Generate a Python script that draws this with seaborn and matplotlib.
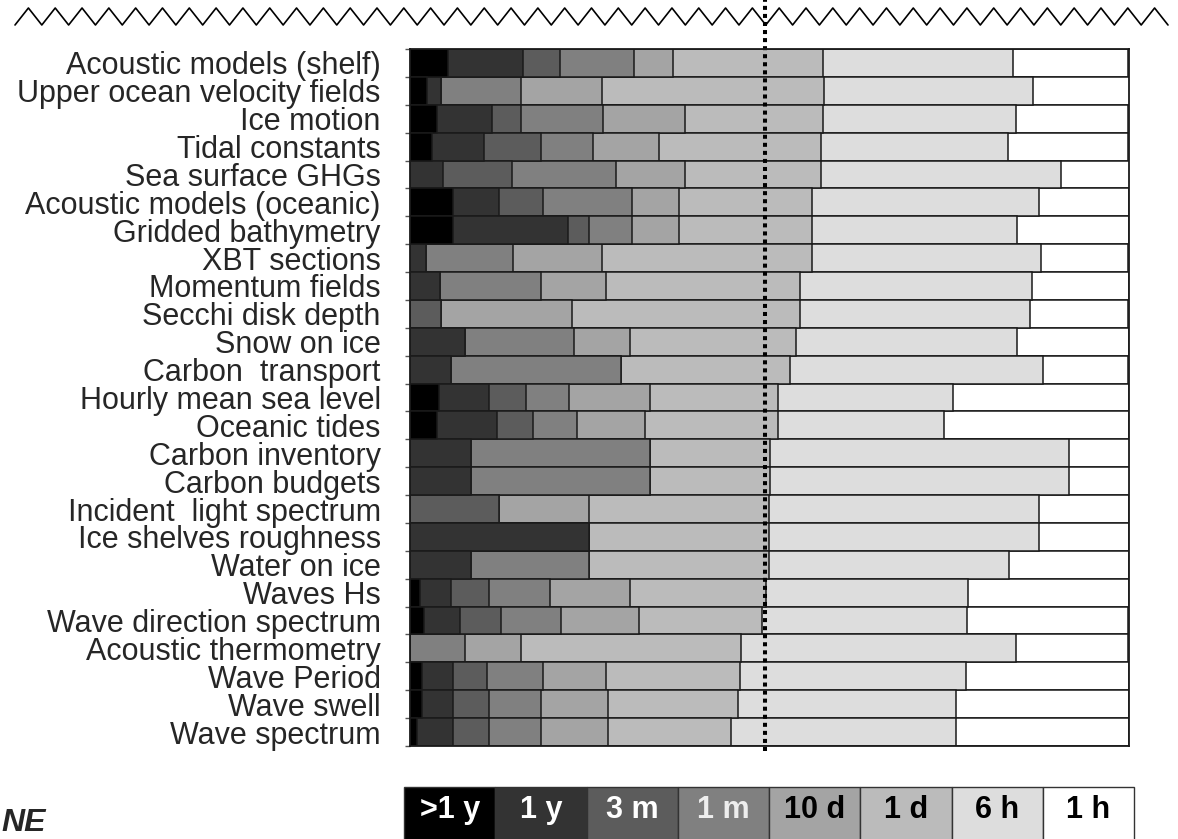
import numpy as np
import pandas as pd
import matplotlib
matplotlib.use('Agg')
import matplotlib.pyplot as plt
from matplotlib.lines import Line2D
import seaborn as sns

# data (percent of each row, per time scale)
names = ['Acoustic models (shelf)', 'Upper ocean velocity fields',
         'Ice motion', 'Tidal constants', 'Sea surface GHGs',
         'Acoustic models (oceanic)', 'Gridded bathymetry', 'XBT sections',
         'Momentum fields', 'Secchi disk depth', 'Snow on ice',
         'Carbon  transport', 'Hourly mean sea level', 'Oceanic tides',
         'Carbon inventory', 'Carbon budgets', 'Incident  light spectrum',
         'Ice shelves roughness', 'Water on ice', 'Waves Hs',
         'Wave direction spectrum', 'Acoustic thermometry', 'Wave Period',
         'Wave swell', 'Wave spectrum']

scales = ['>1 y', '1 y', '3 m', '1 m', '10 d', '1 d', '6 h', '1 h']

over_1y = [5.3, 2.4, 3.8, 3.1, 0, 6.0, 6.0, 0, 0, 0, 0, 0, 4.0, 3.8,
           0, 0, 0, 0, 0, 1.4, 1.9, 0, 1.7, 1.7, 1.0]
one_y = [10.4, 1.9, 7.6, 7.2, 4.6, 6.4, 16.0, 2.2, 4.2, 0, 7.6, 5.7, 7.0,
         8.3, 8.5, 8.5, 0, 24.9, 8.5, 4.3, 5.0, 0, 4.3, 4.3, 5.0]
three_m = [5.1, 0, 4.0, 7.9, 9.6, 6.1, 2.9, 0, 0, 4.3, 0, 0, 5.1, 5.0,
           0, 0, 12.4, 0, 0, 5.3, 5.8, 0, 4.7, 5.0, 5.0]
one_m = [10.4, 11.1, 11.4, 7.2, 14.5, 12.4, 6.0, 12.1, 14.0, 0, 15.2,
         23.6, 6.0, 6.1, 24.9, 24.9, 0, 0, 16.4, 8.5, 8.3, 7.6, 7.8, 7.2,
         7.2]
ten_d = [5.4, 11.3, 11.5, 9.3, 9.5, 6.5, 6.5, 12.4, 9.0, 18.2, 7.8, 0,
         11.3, 9.5, 0, 0, 12.5, 0, 0, 11.1, 10.8, 7.8, 8.8, 9.3, 9.3]
one_d = [20.9, 30.9, 19.2, 22.5, 18.9, 18.5, 18.5, 29.2, 27.0, 31.7, 23.1,
         23.6, 17.8, 18.5, 16.6, 16.6, 25.0, 25.0, 25.0, 18.9, 17.2, 30.7,
         18.6, 18.1, 17.2]
six_h = [26.4, 29.1, 26.8, 26.0, 33.5, 31.6, 28.5, 31.8, 32.3, 32.1, 30.7,
         35.2, 24.3, 23.1, 41.6, 41.6, 37.6, 37.6, 33.4, 28.1, 28.4, 38.2,
         31.4, 30.3, 31.2]
one_h = [16.0, 13.4, 15.6, 16.7, 9.5, 12.5, 15.6, 12.2, 13.5, 13.6, 15.6,
         11.8, 24.5, 25.7, 8.5, 8.5, 12.5, 12.5, 16.7, 22.4, 22.4, 15.6,
         22.7, 24.1, 24.1]

greys = ['#000000', '#333333', '#5c5c5c', '#808080', '#a4a4a4', '#bbbbbb',
         '#dddddd', '#ffffff']
legend_text = ['white', 'white', 'white', '#eeeeee', 'black', 'black',
               'black', 'black']
split_at = 49.4  # dotted line position

sns.set_style('white')
plt.rcParams['font.family'] = ['Liberation Sans', 'DejaVu Sans']

W, H = 1178, 839
fig = plt.figure(figsize=(W / 100, H / 100), dpi=100)
ax = fig.add_axes([410 / W, 1 - 746 / H, 719 / W, 697 / H])

# stacked bars: draw the cumulative totals from the widest down
df = pd.DataFrame({'name': names})
series = [over_1y, one_y, three_m, one_m, ten_d, one_d, six_h, one_h]
for s, vals in zip(scales, series):
    df[s] = vals
cum = df[scales].cumsum(axis=1)
cum['name'] = names

for s, col in reversed(list(zip(scales, greys))):
    sns.barplot(data=cum, x=s, y='name', order=names, orient='h',
                color=col, width=1.0, edgecolor='#1a1a1a', linewidth=1.1,
                saturation=1, ax=ax)

ax.set_xlim(0, 100)
ax.set_ylim(len(names) - 0.5, -0.5)
ax.set_xlabel('')
ax.set_ylabel('')
ax.set_xticks([])
ax.tick_params(axis='y', which='major', length=0, pad=21, labelsize=22)
ax.set_yticks(np.arange(len(names) + 1) - 0.5, minor=True)
ax.tick_params(axis='y', which='minor', length=3.6, width=1,
               color='#555555', left=True)
for sp in ax.spines.values():
    sp.set_color('#1a1a1a')
    sp.set_linewidth(1.3)

ax.axvline(split_at, ymin=-0.007, ymax=1.07, clip_on=False, color='black',
           lw=2.9, linestyle=(0, (1, 1)))

# zigzag decoration along the top
n_peaks = 43
zx = np.linspace(15, 1168, 2 * n_peaks + 1) / W
zy = np.where(np.arange(len(zx)) % 2 == 0, 1 - 25 / H, 1 - 8 / H)
fig.add_artist(Line2D(zx, zy, color='black', lw=1.2,
                      transform=fig.transFigure))

# legend strip
lax = fig.add_axes([404 / W, 0, 730 / W, 52 / H])
lax.bar(range(len(scales)), 1.5, bottom=-0.5, width=1, color=greys,
        edgecolor='#333333', linewidth=1, clip_on=False)
for i, (lab, tc) in enumerate(zip(scales, legend_text)):
    lax.text(i, 0.55, lab, ha='center', va='center', color=tc,
             fontsize=22, fontweight='bold')
lax.set_xlim(-0.5, len(scales) - 0.5)
lax.set_ylim(0, 1)
lax.axis('off')

fig.text(1 / W, 1 - 831 / H, 'NE', ha='left', va='baseline',
         fontsize=23, fontweight='bold', fontstyle='italic')

fig.savefig('out.png', dpi=100)
